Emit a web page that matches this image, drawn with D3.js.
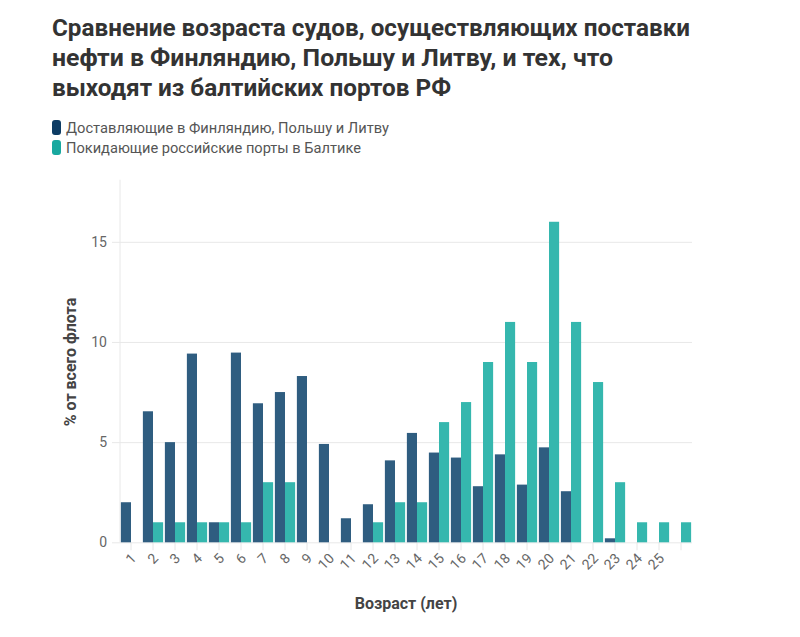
<!DOCTYPE html>
<html>
<head>
<meta charset="utf-8">
<script src="https://cdn.jsdelivr.net/npm/d3@7"></script>
<style>
  html, body { margin: 0; padding: 0; background: #fff; }
  svg { display: block; font-family: Roboto, "Noto Sans", sans-serif; }
</style>
</head>
<body>
<svg id="chart" width="800" height="637"></svg>
<script>
// ---- data ----
const titleLines = [
  "Сравнение возраста судов, осуществляющих поставки",
  "нефти в Финляндию, Польшу и Литву, и тех, что",
  "выходят из балтийских портов РФ"
];
const seriesNames = ["Доставляющие в Финляндию, Польшу и Литву", "Покидающие российские порты в Балтике"];
const ages = [1,2,3,4,5,6,7,8,9,10,11,12,13,14,15,16,17,18,19,20,21,22,23,24,25,26];
const tickLabels = ["1","2","3","4","5","6","7","8","9","10","11","12","13","14","15","16","17","18","19","20","21","22","23","24","25",""];
const finlandPolandLithuania = [2.0, 6.54, 5.0, 9.42, 1.0, 9.47, 6.94, 7.5, 8.3, 4.91, 1.2, 1.9, 4.09, 5.46, 4.48, 4.23, 2.8, 4.39, 2.88, 4.74, 2.55, 0, 0.2, 0, 0, 0];
const russianBalticPorts = [0, 1, 1, 1, 1, 1, 3, 3, 0, 0, 0, 1, 2, 2, 6, 7, 9, 11, 9, 16, 11, 8, 3, 1, 1, 1];
const yTicks = [0, 5, 10, 15];
const yTitle = "% от всего флота";
const xTitle = "Возраст (лет)";

// ---- styles ----
const barColors = ["#2f5d80", "#35b7ae"];
const legendColors = ["#0d3c64", "#18a89f"];

const svg = d3.select("#chart");

// Title
const titleW = [638, 561, 399];
svg.append("g").selectAll("text").data(titleLines).join("text")
  .attr("x", 52).attr("y", (d, i) => 36 + i * 30)
  .attr("font-size", 24).attr("font-weight", 700).attr("fill", "#333")
  .attr("textLength", (d, i) => titleW[i]).attr("lengthAdjust", "spacingAndGlyphs")
  .text(d => d);

// Legend
const legendW = [323, 295];
const lg = svg.append("g").selectAll("g").data(seriesNames).join("g")
  .attr("transform", (d, i) => `translate(52, ${120 + i * 20})`);
lg.append("rect").attr("width", 9).attr("height", 15).attr("rx", 3)
  .attr("fill", (d, i) => legendColors[i]);
lg.append("text").attr("x", 14).attr("y", 12.5)
  .attr("font-size", 15).attr("fill", "#555")
  .attr("textLength", (d, i) => legendW[i]).attr("lengthAdjust", "spacingAndGlyphs")
  .text(d => d);

// Scales
const plotLeft = 120, plotRight = 692, plotTop = 181.7, plotBottom = 542.3;
const x0 = d3.scaleBand().domain(ages).range([plotLeft, plotRight]).paddingInner(0.08).paddingOuter(0.04);
const x1 = d3.scaleBand().domain([0, 1]).range([0, x0.bandwidth()]);
const y = d3.scaleLinear().domain([0, 18]).range([plotBottom, plotTop]);

// Grid + y axis
const yAxis = d3.axisLeft(y).tickValues(yTicks).tickSize(8).tickPadding(5);
const gy = svg.append("g").attr("transform", `translate(${plotLeft},0)`).call(yAxis);
gy.select(".domain").remove();
gy.selectAll(".tick line").attr("x2", plotRight - plotLeft).attr("x1", -8).attr("stroke", "#e8e8e8");
gy.selectAll(".tick text").attr("font-size", 14).attr("fill", "#666").attr("font-family", "Roboto, sans-serif");
svg.append("line").attr("x1", plotLeft).attr("x2", plotLeft).attr("y1", plotTop - 2).attr("y2", plotBottom)
  .attr("stroke", "#e8e8e8");

// x axis
const xAxis = d3.axisBottom(x0).tickSize(8).tickPadding(4).tickFormat((d, i) => tickLabels[i]);
const gx = svg.append("g").attr("transform", `translate(0,${plotBottom})`).call(xAxis);
gx.select(".domain").remove();
gx.selectAll(".tick line").attr("stroke", "#e6e6e6");
gx.selectAll(".tick text")
  .attr("font-size", 14).attr("fill", "#666").attr("font-family", "Roboto, sans-serif")
  .attr("text-anchor", "end").attr("dy", null).attr("y", 0)
  .attr("transform", "translate(6,17) rotate(-45)");

// Bars
const groups = svg.append("g").selectAll("g").data(ages).join("g")
  .attr("transform", d => `translate(${x0(d)},0)`);
groups.selectAll("rect").data((d, i) => [finlandPolandLithuania[i], russianBalticPorts[i]])
  .join("rect")
  .attr("x", (v, j) => x1(j)).attr("width", x1.bandwidth())
  .attr("y", v => y(v)).attr("height", v => y(0) - y(v))
  .attr("fill", (v, j) => barColors[j]);

// Axis titles
svg.append("text").attr("transform", `translate(76, ${(plotTop + plotBottom) / 2}) rotate(-90)`)
  .attr("text-anchor", "middle").attr("font-size", 16).attr("font-weight", 700).attr("fill", "#444")
  .text(yTitle);
svg.append("text").attr("x", (plotLeft + plotRight) / 2).attr("y", 609)
  .attr("text-anchor", "middle").attr("font-size", 16).attr("font-weight", 700).attr("fill", "#444")
  .text(xTitle);
</script>
</body>
</html>
